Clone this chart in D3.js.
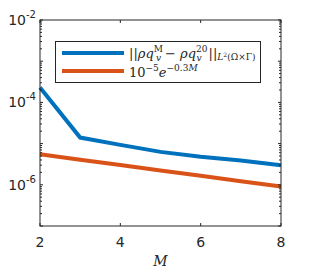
<!DOCTYPE html>
<html>
<head>
<meta charset="utf-8">
<script src="https://cdn.jsdelivr.net/npm/d3@7"></script>
<style>
  body { margin: 0; background: #fff; }
  svg { display: block; }
</style>
</head>
<body>
<div id="chart"></div>
<script>
// values
const M = [2, 3, 4, 5, 6, 7, 8];
const errVals = [2.3e-4, 1.4e-5, 9.3e-6, 6.3e-6, 4.8e-6, 3.9e-6, 3.0e-6];
const refVals = [5.49e-6, 4.07e-6, 3.01e-6, 2.23e-6, 1.65e-6, 1.22e-6, 9.07e-7];
const xTicks = [2, 4, 6, 8];
const yTickExp = [-2, -4, -6];

const W = 309, H = 272;
const margin = { left: 40, top: 20, right: 28, bottom: 46 };
const iw = W - margin.left - margin.right;
const ih = H - margin.top - margin.bottom;

const svg = d3.select("#chart").append("svg")
  .attr("width", W).attr("height", H);

const g = svg.append("g")
  .attr("transform", `translate(${margin.left},${margin.top})`);

const x = d3.scaleLinear().domain([2, 8]).range([0, iw]);
const y = d3.scaleLog().domain([1e-7, 1e-2]).range([ih, 0]);

const axisCol = "#262626";

// lines
const line = d3.line().x((d, i) => x(M[i])).y(d => y(d));
g.append("path").datum(refVals)
  .attr("d", line).attr("fill", "none")
  .attr("stroke", "#D95319").attr("stroke-width", 4);
g.append("path").datum(errVals)
  .attr("d", line).attr("fill", "none")
  .attr("stroke", "#0072BD").attr("stroke-width", 4);

// box
g.append("rect").attr("width", iw).attr("height", ih)
  .attr("fill", "none").attr("stroke", axisCol).attr("stroke-width", 1);

// x ticks (inward, top and bottom)
xTicks.forEach(t => {
  g.append("line").attr("x1", x(t)).attr("x2", x(t)).attr("y1", ih).attr("y2", ih - 3)
    .attr("stroke", axisCol);
  g.append("line").attr("x1", x(t)).attr("x2", x(t)).attr("y1", 0).attr("y2", 3)
    .attr("stroke", axisCol);
  g.append("text").attr("x", x(t)).attr("y", ih + 21)
    .attr("text-anchor", "middle")
    .attr("font-family", "DejaVu Sans").attr("font-size", 14)
    .attr("fill", axisCol).text(t);
});

// y ticks: major every decade, minor 2..9
for (let e = -7; e <= -2; e++) {
  const v = Math.pow(10, e);
  [0, iw].forEach((x0, k) => {
    const dir = k === 0 ? 1 : -1;
    g.append("line").attr("x1", x0).attr("x2", x0 + dir * 3)
      .attr("y1", y(v)).attr("y2", y(v)).attr("stroke", axisCol);
  });
  if (e < -2) {
    for (let m = 2; m <= 9; m++) {
      const mv = m * v;
      [0, iw].forEach((x0, k) => {
        const dir = k === 0 ? 1 : -1;
        g.append("line").attr("x1", x0).attr("x2", x0 + dir * 2)
          .attr("y1", y(mv)).attr("y2", y(mv)).attr("stroke", axisCol);
      });
    }
  }
}

yTickExp.forEach(e => {
  const t = g.append("text").attr("x", -4).attr("y", y(Math.pow(10, e)) + 5)
    .attr("text-anchor", "end")
    .attr("font-family", "DejaVu Sans").attr("font-size", 14)
    .attr("fill", axisCol);
  t.append("tspan").text("10");
  t.append("tspan").attr("dy", -7).attr("font-size", 10).text(String(e));
});

// x label
svg.append("text").attr("x", margin.left + x(5)).attr("y", 266)
  .attr("text-anchor", "middle")
  .attr("font-family", "DejaVu Serif").attr("font-style", "italic")
  .attr("font-size", 14).attr("fill", axisCol).text("M");

// legend
const lg = svg.append("g");
lg.append("rect").attr("x", 55.5).attr("y", 41.5).attr("width", 205).attr("height", 41)
  .attr("fill", "#fff").attr("stroke", axisCol).attr("stroke-width", 1);
lg.append("line").attr("x1", 62).attr("x2", 124).attr("y1", 53).attr("y2", 53)
  .attr("stroke", "#0072BD").attr("stroke-width", 4);
lg.append("line").attr("x1", 62).attr("x2", 124).attr("y1", 71).attr("y2", 71)
  .attr("stroke", "#D95319").attr("stroke-width", 4);

const fam = "DejaVu Serif";
const t1 = lg.append("text").attr("x", 129).attr("y", 58)
  .attr("font-family", fam).attr("font-size", 13).attr("fill", axisCol);
t1.append("tspan").text("||");
t1.append("tspan").attr("font-style", "italic").text("ρq");
t1.append("tspan").attr("dy", -6).attr("font-size", 9).text("M");
t1.append("tspan").attr("dx", -7).attr("dy", 9).attr("font-size", 9).attr("font-style", "italic").text("v");
t1.append("tspan").attr("dx", 4).attr("dy", -3).text("− ");
t1.append("tspan").attr("font-style", "italic").text("ρq");
t1.append("tspan").attr("dy", -6).attr("font-size", 9).text("20");
t1.append("tspan").attr("dx", -11).attr("dy", 9).attr("font-size", 9).attr("font-style", "italic").text("v");
t1.append("tspan").attr("dx", 7).attr("dy", -3).text("||");
t1.append("tspan").attr("dy", 2).attr("font-size", 9).attr("font-style", "italic").text("L");
t1.append("tspan").attr("dy", -3).attr("font-size", 6).text("2");
t1.append("tspan").attr("dy", 3).attr("font-size", 9).text("(Ω×Γ)");

const t2 = lg.append("text").attr("x", 129).attr("y", 77)
  .attr("font-family", fam).attr("font-size", 13).attr("fill", axisCol);
t2.append("tspan").text("10");
t2.append("tspan").attr("dy", -6).attr("font-size", 9).text("−5");
t2.append("tspan").attr("dy", 6).attr("font-style", "italic").text("e");
t2.append("tspan").attr("dy", -6).attr("font-size", 9).text("−0.3");
t2.append("tspan").attr("font-size", 9).attr("font-style", "italic").text("M");
</script>
</body>
</html>
